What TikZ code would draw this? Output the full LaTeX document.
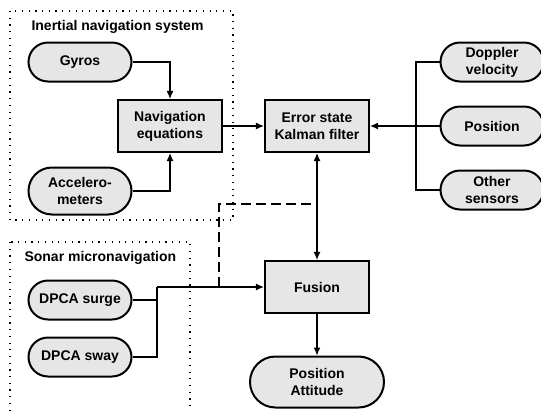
\documentclass[tikz,border=0pt]{standalone}
\usepackage{fontspec}
\setmainfont{Liberation Sans}
\usetikzlibrary{arrows.meta,shapes.misc}
\definecolor{boxgray}{RGB}{230,230,230}
\tikzset{
  sensor/.style={rounded rectangle, draw, line width=2pt, fill=boxgray,
    minimum width=105pt, minimum height=39pt, inner sep=1pt, align=center,
    font=\bfseries\fontsize{14}{17}\selectfont},
  block/.style={rectangle, draw, line width=2.2pt, fill=boxgray,
    minimum width=104pt, minimum height=52pt, align=center,
    font=\bfseries\fontsize{14}{17}\selectfont},
  group/.style={draw, line width=1.2pt, dash pattern=on 1.2pt off 5.5pt},
  title/.style={anchor=west, font=\bfseries\fontsize{14}{17}\selectfont},
  link/.style={line width=1.1pt, -{Latex[length=8pt,width=7pt]}},
  wire/.style={line width=1.1pt}
}
\begin{document}
\begin{tikzpicture}[x=1pt,y=-1pt]
\useasboundingbox (0,0) rectangle (541,410);
\draw[group] (10,11) rectangle (233,220);
\draw[group] (10,242) rectangle (190,415);
\node[title] (institle) at (28,27) {Inertial navigation system};
\node[title] (sonartitle) at (21,258) {Sonar micronavigation};

\node[sensor] (gyros) at (80,62) {Gyros};
\node[sensor, minimum height=47pt] (accel) at (80,191) {Accelero-\\meters};
\node[block] (naveq) at (170,126) {Navigation\\equations};
\node[block] (kalman) at (317,126) {Error state\\Kalman filter};
\node[sensor] (doppler) at (492,62) {Doppler\\velocity};
\node[sensor] (position) at (492,126) {Position};
\node[sensor] (other) at (492,190) {Other\\sensors};
\node[sensor] (surge) at (80,300) {DPCA surge};
\node[sensor] (sway) at (80,357) {DPCA sway};
\node[block] (fusion) at (317,287) {Fusion};
\node[sensor, minimum width=136pt, minimum height=51pt] (out) at (317,382) {Position\\Attitude};

\coordinate (sbus) at (416,126);
\coordinate (mbus) at (157,287);
\coordinate (tap) at (219,287);
\coordinate (dashend) at (313,204);

\draw[link] (gyros.east) -| (naveq.north);
\draw[link] (accel.east) -| (naveq.south);
\draw[link] (naveq.east) -- (kalman.west);
\draw[wire] (doppler.west) -| (sbus) |- (other.west);
\draw[link] (position.west) -- (kalman.east);
\draw[link, {Latex[length=8pt,width=7pt]}-{Latex[length=8pt,width=7pt]}] (kalman.south) -- (fusion.north);
\draw[link] (fusion.south) -- (out.north);
\draw[wire] (surge.east) -| (mbus);
\draw[wire] (sway.east) -| (mbus);
\draw[link] (mbus) -- (fusion.west);
\draw[wire, dash pattern=on 10pt off 5pt] (tap) |- (dashend);
\end{tikzpicture}
\end{document}
